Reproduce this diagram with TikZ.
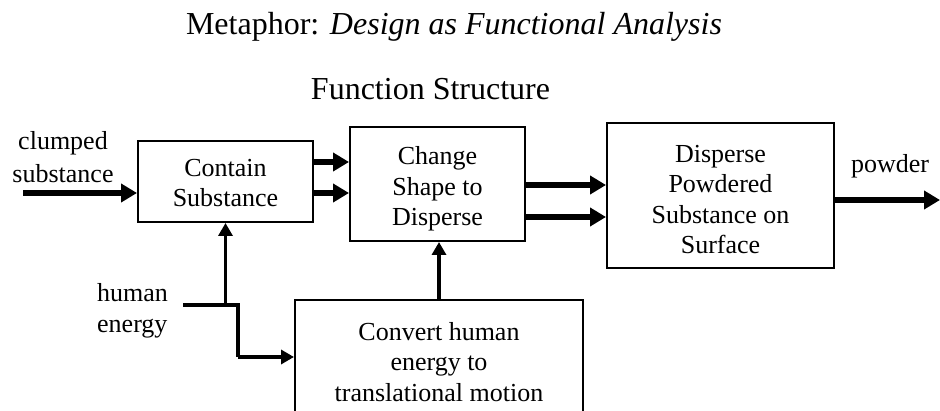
\documentclass[tikz,border=0pt]{standalone}
\usepackage{fontspec}
\setmainfont{Liberation Serif}
\usetikzlibrary{arrows.meta}
\begin{document}
\begin{tikzpicture}[x=1pt,y=-1pt,
  box/.style={draw, line width=2pt, inner sep=0pt},
  txt/.style={font=\fontsize{26}{30.5}\selectfont, align=center, inner sep=0pt},
  bigarrow/.style={line width=6pt, -{Triangle[length=16pt,width=18pt]}},
  smallarrow/.style={line width=3.5pt, -{Triangle[length=13pt,width=14pt]}},
  smallline/.style={line width=3.5pt}
]
\useasboundingbox (0,0) rectangle (940,411);
% title
\node[font=\fontsize{32}{38}\selectfont, anchor=base, inner sep=0pt] (title) at (454,35) {Metaphor: \textit{Design as Functional Analysis}};
\node[font=\fontsize{32}{38}\selectfont, anchor=base, inner sep=0pt] (fs) at (430.5,100) {Function Structure};
% boxes
\node[box, minimum width=175pt, minimum height=81pt] (contain) at (225.5,181.5) {};
\node[txt] (containtxt) at (225.5,183) {Contain\\Substance};
\node[box, minimum width=175pt, minimum height=114pt] (change) at (437.5,184) {};
\node[txt] (changetxt) at (437.5,189) {Change\\Shape to\\Disperse};
\node[box, minimum width=227pt, minimum height=145pt] (disperse) at (720.5,195.5) {};
\node[txt] (dispersetxt) at (720.5,199.5) {Disperse\\Powdered\\Substance on\\Surface};
\node[box, minimum width=288pt, minimum height=160pt] (convert) at (439,380) {};
\node[txt] (converttxt) at (439,362) {Convert human\\energy to\\translational motion};
% labels
\node[txt, font=\fontsize{26}{33}\selectfont] (clumped) at (63,157) {clumped\\substance};
\node[txt, align=left, anchor=west] (human) at (97,311) {human\\energy};
\node[txt, anchor=base] (powder) at (890,173) {powder};
% connectors
\coordinate (in1) at (23,193);
\draw[bigarrow] (in1) -- (in1 -| contain.west);
\draw[bigarrow] (contain.east |- 0,162) -- (change.west |- 0,162);
\draw[bigarrow] (contain.east |- 0,193) -- (change.west |- 0,193);
\draw[bigarrow] (change.east |- 0,185) -- (disperse.west |- 0,185);
\draw[bigarrow] (change.east |- 0,217) -- (disperse.west |- 0,217);
\coordinate (out) at (940,200);
\draw[bigarrow] (disperse.east |- out) -- (out);
\coordinate (he) at (183,305);
\coordinate (j) at (225.5,305);
\coordinate (k) at (238,305);
\draw[smallline] (he) -- (k) -- (238,357);
\draw[smallarrow] (238,357) -- (convert.west |- 0,357);
\draw[smallarrow] (j) -- (contain.south);
\draw[smallarrow] (convert.north) -- (convert.north |- change.south);
\end{tikzpicture}
\end{document}
